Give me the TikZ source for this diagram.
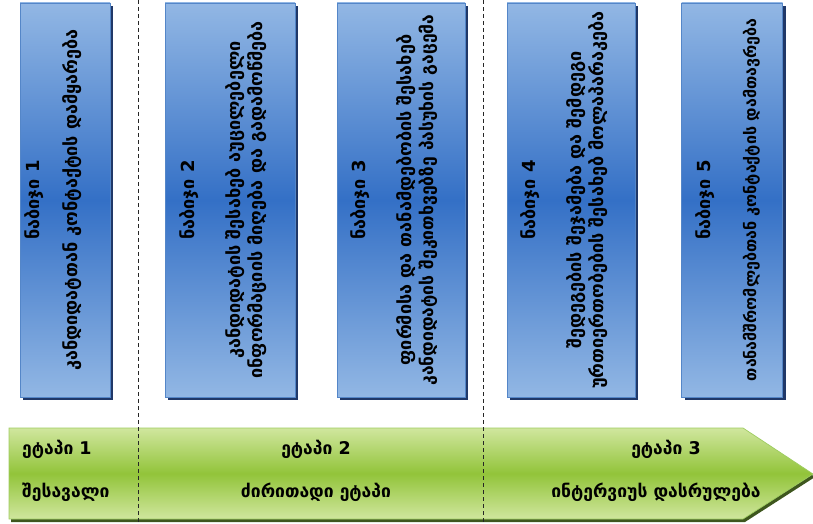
\documentclass[tikz,border=0pt]{standalone}
\usepackage{fontspec}
\setmainfont{DejaVu Sans}
\usetikzlibrary{shadows}

\definecolor{boxlight}{RGB}{146,183,228}
\definecolor{boxmid}{RGB}{52,112,198}
\definecolor{boxedge}{RGB}{84,134,200}
\definecolor{boxshade}{RGB}{32,56,104}
\definecolor{barlight}{RGB}{208,230,158}
\definecolor{barmid}{RGB}{146,196,58}
\definecolor{baredge}{RGB}{158,204,96}
\definecolor{barshade}{RGB}{62,86,30}
\newcommand{\steplines}[2]{\rotatebox{90}{\begin{tabular}{@{}c@{}}#1\end{tabular}}\hspace*{#2}}
\newcommand{\narrow}{\fontsize{16}{22}\selectfont}

\begin{document}
\begin{tikzpicture}[
  x=1pt, y=-1pt,
  font=\bfseries\fontsize{18}{22}\selectfont,
  stepbox/.style={
    draw=boxedge,
    line width=0.7pt,
    top color=boxlight,
    bottom color=boxlight,
    middle color=boxmid,
    minimum height=394pt,
    inner sep=0pt,
    drop shadow={shadow xshift=3pt, shadow yshift=-3pt, fill=boxshade, opacity=1},
  },
  stagebar/.style={
    draw=baredge,
    line width=0.7pt,
    top color=barlight,
    bottom color=barlight,
    middle color=barmid,
    drop shadow={shadow xshift=2pt, shadow yshift=-3pt, fill=barshade, opacity=1},
  },
  stagetext/.style={inner sep=0pt, font=\bfseries\fontsize{17.5}{22}\selectfont},
  divider/.style={draw=black!85, line width=0.9pt, dash pattern=on 4pt off 3pt},
]
\useasboundingbox (0,0) rectangle (813,524);

% ---- the five steps -------------------------------------------------------
\node[stepbox, minimum width=90pt] (s1) at (65,200)
  {\steplines{ნაბიჯი 1\\[16pt]
   კანდიდატთან კონტაქტის დამყარება}{22pt}};
\node[stepbox, minimum width=130pt] (s2) at (230,200)
  {\steplines{ნაბიჯი 2\\[24pt]
   კანდიდატის შესახებ აუცილებელი\\
   ინფორმაციის მიღება და გადამოწმება}{12pt}};
\node[stepbox, minimum width=128pt] (s3) at (401,200)
  {\steplines{ნაბიჯი 3\\[24pt]
   ფირმისა და თანამდებობის შესახებ\\
   {\fontsize{17.5}{22}\selectfont კანდიდატის შეკითხვებზე პასუხის გაცემა}}{12pt}};
\node[stepbox, minimum width=128pt] (s4) at (571,200)
  {\steplines{ნაბიჯი 4\\[24pt]
   შედეგების შეჯამება და შემდეგი\\
   ურთიერთობების შესახებ მოლაპარაკება}{12pt}};
\node[stepbox, minimum width=101pt] (s5) at (732,200)
  {\steplines{ნაბიჯი 5\\[24pt]
   {\narrow თანამშრომლებთან კონტაქტის დამთავრება}}{6pt}};

% ---- the stage arrow ------------------------------------------------------
\path[stagebar] (9,428) -- (743,428) -- (813,474) -- (743,519) -- (9,519) -- cycle;

\node[stagetext, anchor=west] (e1) at (22,449) {ეტაპი 1};
\node[stagetext, anchor=west] (e1n) at (22,492) {შესავალი};
\node[stagetext] (e2) at (316,449) {ეტაპი 2};
\node[stagetext] (e2n) at (316,492) {ძირითადი ეტაპი};
\node[stagetext] (e3) at (666,449) {ეტაპი 3};
\node[stagetext] (e3n) at (656,492) {ინტერვიუს დასრულება};

% ---- stage borders --------------------------------------------------------
\coordinate (d1a) at (138,0);
\coordinate (d1b) at (138,522);
\coordinate (d2a) at (483,0);
\coordinate (d2b) at (483,522);
\draw[divider] (d1a) -- (d1b);
\draw[divider] (d2a) -- (d2b);

\end{tikzpicture}
\end{document}
